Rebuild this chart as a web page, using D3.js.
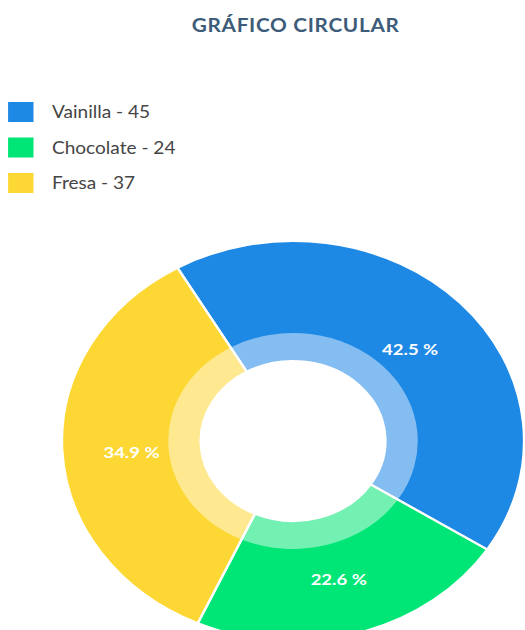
<!DOCTYPE html>
<html>
<head>
<meta charset="utf-8">
<script src="https://cdn.jsdelivr.net/npm/d3@7"></script>
<style>
  html, body { margin: 0; padding: 0; background: #ffffff; }
  svg { display: block; }
</style>
</head>
<body>
<svg id="chart" width="525" height="630"></svg>
<script>
// Flavour counts
const categories = ["Vainilla", "Chocolate", "Fresa"];
const values = [45, 24, 37];
const colors = ["#1e88e5", "#00e676", "#fdd835"];
const title = "GRÁFICO CIRCULAR";

const W = 525, H = 630;
const sx = 1.155;                 // horizontal stretch of the whole layout

const svg = d3.select("#chart");
const root = svg.append("g").attr("transform", `scale(${sx},1)`);

// Title
root.append("text")
  .attr("x", 256)
  .attr("y", 32)
  .attr("text-anchor", "middle")
  .attr("font-family", "Lato, 'Open Sans', sans-serif")
  .attr("font-weight", 700)
  .attr("font-size", 18)
  .attr("letter-spacing", 0.6)
  .attr("fill", "#3d5c79")
  .text(title);

// Legend
const legend = root.append("g").attr("transform", "translate(7,112)");
const rows = legend.selectAll("g.row")
  .data(categories)
  .join("g")
  .attr("class", "row")
  .attr("transform", (d, i) => `translate(0,${i * 35.5})`);
rows.append("rect")
  .attr("x", 0).attr("y", -10)
  .attr("width", 22).attr("height", 20)
  .attr("fill", (d, i) => colors[i]);
rows.append("text")
  .attr("x", 38)
  .attr("y", 0)
  .attr("dominant-baseline", "central")
  .attr("font-family", "Lato, 'Open Sans', sans-serif")
  .attr("font-size", 16.5)
  .attr("fill", "#454545")
  .text((d, i) => `${categories[i]} - ${values[i]}`);

// Donut
const cx = 253.7, cy = 441;
const rOuter = 200, rRing = 108, rHole = 80;
const start = -30 * Math.PI / 180;

const pie = d3.pie().sort(null).startAngle(start).endAngle(start + 2 * Math.PI);
const arcs = pie(values);
const total = d3.sum(values);

const arcOuter = d3.arc().innerRadius(rHole).outerRadius(rOuter);
const arcRing = d3.arc().innerRadius(rHole).outerRadius(rRing);

const donut = root.append("g").attr("transform", `translate(${cx},${cy})`);

donut.selectAll("path.slice")
  .data(arcs)
  .join("path")
  .attr("class", "slice")
  .attr("d", arcOuter)
  .attr("fill", (d, i) => colors[i]);

// Lighter inner band
donut.selectAll("path.band")
  .data(arcs)
  .join("path")
  .attr("class", "band")
  .attr("d", arcRing)
  .attr("fill", "#ffffff")
  .attr("fill-opacity", 0.45);

// Slice separators
donut.selectAll("path.edge")
  .data(arcs)
  .join("path")
  .attr("class", "edge")
  .attr("d", arcOuter)
  .attr("fill", "none")
  .attr("stroke", "#ffffff")
  .attr("stroke-width", 2);

// Percentage labels
donut.selectAll("text.pct")
  .data(arcs)
  .join("text")
  .attr("class", "pct")
  .attr("transform", d => `translate(${arcOuter.centroid(d)})`)
  .attr("dy", 4)
  .attr("text-anchor", "middle")
  .attr("dominant-baseline", "central")
  .attr("font-family", "Lato, 'Open Sans', sans-serif")
  .attr("font-weight", 700)
  .attr("font-size", 16)
  .attr("fill", "#ffffff")
  .text(d => (d.data / total * 100).toFixed(1) + " %");
</script>
</body>
</html>
